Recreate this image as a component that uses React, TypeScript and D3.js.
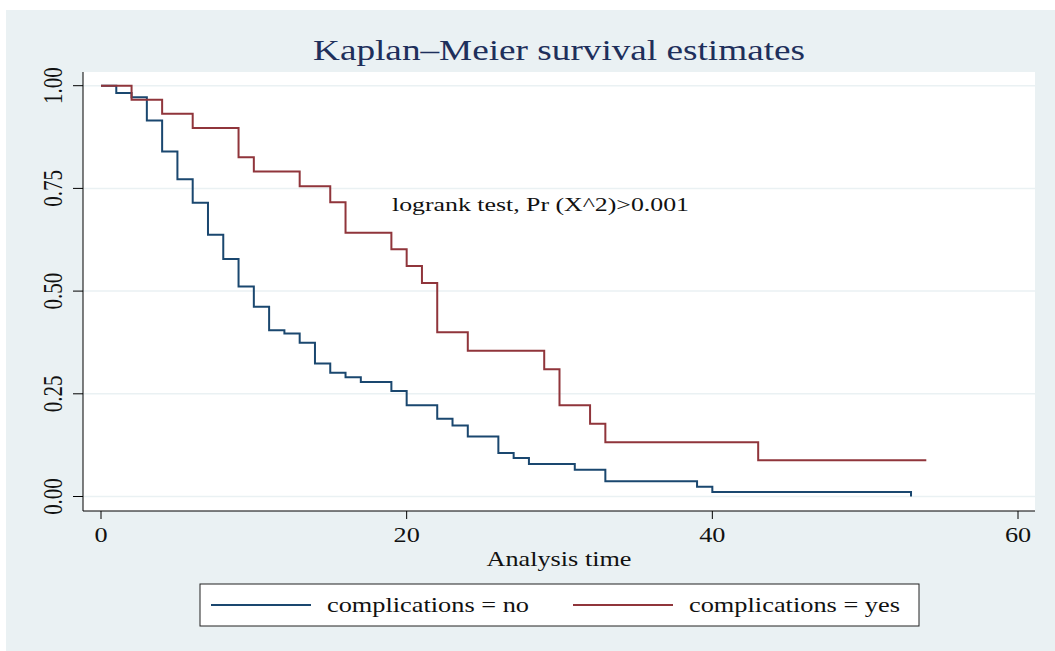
import React, { useEffect, useRef } from 'react';
import * as d3 from 'd3';

// survival estimates
const noTimes = [0, 1, 2, 3, 4, 5, 6, 7, 8, 9, 10, 11, 12, 13, 14, 15, 16, 17, 19, 20, 22, 23, 24, 26, 27, 28, 31, 33, 39, 40, 53];
const noSurv = [1, 0.982, 0.972, 0.915, 0.84, 0.772, 0.715, 0.637, 0.578, 0.511, 0.462, 0.405, 0.397, 0.374, 0.324, 0.301, 0.29, 0.279, 0.257, 0.222, 0.189, 0.173, 0.146, 0.106, 0.094, 0.079, 0.065, 0.037, 0.024, 0.011, 0];

const yesTimes = [0, 2, 4, 6, 9, 10, 13, 15, 16, 19, 20, 21, 22, 24, 29, 30, 32, 33, 43, 54];
const yesSurv = [1, 0.966, 0.932, 0.897, 0.826, 0.791, 0.755, 0.716, 0.642, 0.602, 0.561, 0.52, 0.4, 0.355, 0.31, 0.222, 0.177, 0.132, 0.088, 0.088];

const xTicks = [0, 20, 40, 60];
const yTicks = [0, 0.25, 0.5, 0.75, 1];
const seriesLabels = ['complications = no', 'complications = yes'];

const W = 1055;
const H = 651;
const BG = '#eaf1f3';
const NAVY = '#1a476f';
const MAROON = '#90353b';
const SX = 1.25; // picture is stretched horizontally

const App: React.FC = () => {
  const svgRef = useRef<SVGSVGElement>(null);

  useEffect(() => {
    if (!svgRef.current) return;
    const svg = d3.select(svgRef.current);
    svg.selectAll('*').remove();

    const left = 83, right = 1035, top = 72, bottom = 511;

    const x = d3.scaleLinear().domain([0, 60]).range([101, 1018]);
    const y = d3.scaleLinear().domain([0, 1]).range([496.5, 85.7]);

    const txt = (g: any, s: string, tx: number, ty: number, size: number, anchor: string,
      color = '#111', rot = 0, len = 0) => {
      const t = g.append('text')
        .attr('transform', `translate(${tx},${ty}) scale(${SX},1)` + (rot ? ` rotate(${rot})` : ''))
        .attr('text-anchor', anchor)
        .attr('font-family', '"Liberation Serif", "Times New Roman", serif')
        .attr('font-size', size)
        .attr('fill', color)
        .text(s);
      if (len) t.attr('textLength', len / SX).attr('lengthAdjust', 'spacingAndGlyphs');
      return t;
    };

    // background panel
    svg.append('rect').attr('x', 6).attr('y', 10).attr('width', W - 6).attr('height', H - 10).attr('fill', BG);
    svg.append('rect').attr('x', left).attr('y', top).attr('width', right - left).attr('height', bottom - top).attr('fill', '#fff');

    // gridlines
    svg.append('g').selectAll('line').data(yTicks).enter().append('line')
      .attr('x1', left).attr('x2', right)
      .attr('y1', d => y(d)).attr('y2', d => y(d))
      .attr('stroke', BG).attr('stroke-width', 1.5);

    // axes
    svg.append('line').attr('x1', left).attr('x2', left).attr('y1', top).attr('y2', bottom).attr('stroke', '#000').attr('stroke-width', 1);
    svg.append('line').attr('x1', left).attr('x2', right).attr('y1', bottom).attr('y2', bottom).attr('stroke', '#000').attr('stroke-width', 1);

    svg.append('g').selectAll('line').data(xTicks).enter().append('line')
      .attr('x1', d => x(d)).attr('x2', d => x(d)).attr('y1', bottom).attr('y2', bottom + 8)
      .attr('stroke', '#000');
    svg.append('g').selectAll('line').data(yTicks).enter().append('line')
      .attr('x1', left - 10).attr('x2', left).attr('y1', d => y(d)).attr('y2', d => y(d))
      .attr('stroke', '#000');

    const labels = svg.append('g');
    xTicks.forEach(t => txt(labels, String(t), x(t), 542, 21, 'middle'));
    yTicks.forEach(t => txt(labels, t.toFixed(2), 62, y(t), 21, 'middle', '#111', -90));

    // curves
    const line = d3.line<[number, number]>()
      .x(d => x(d[0])).y(d => y(d[1]))
      .curve(d3.curveStepAfter);

    const noPts = noTimes.map((t, i) => [t, noSurv[i]] as [number, number]);
    const yesPts = yesTimes.map((t, i) => [t, yesSurv[i]] as [number, number]);

    svg.append('path').attr('d', line(noPts) as string).attr('fill', 'none').attr('stroke', NAVY).attr('stroke-width', 2);
    svg.append('path').attr('d', line(yesPts) as string).attr('fill', 'none').attr('stroke', MAROON).attr('stroke-width', 2);

    // texts
    txt(svg, 'Kaplan\u2013Meier survival estimates', 559, 60, 29, 'middle', '#1e2f5b', 0, 492);
    txt(svg, 'logrank test, Pr (X^2)>0.001', 392, 211, 19, 'start', '#111', 0, 297);
    txt(svg, 'Analysis time', 559, 566, 21, 'middle', '#111', 0, 145);

    // legend
    const lg = svg.append('g');
    lg.append('rect').attr('x', 200).attr('y', 584).attr('width', 719).attr('height', 42)
      .attr('fill', '#fff').attr('stroke', '#222').attr('stroke-width', 1);
    const colors = [NAVY, MAROON];
    const lineX = [211, 573];
    const textLen = [202, 211];
    seriesLabels.forEach((s, i) => {
      lg.append('line').attr('x1', lineX[i]).attr('x2', lineX[i] + 100).attr('y1', 605).attr('y2', 605)
        .attr('stroke', colors[i]).attr('stroke-width', 2);
      txt(lg, s, lineX[i] + 116, 612, 21, 'start', '#111', 0, textLen[i]);
    });
  }, []);

  return (
    <svg
      ref={svgRef}
      width={W}
      height={H}
      style={{ position: 'absolute', left: 0, top: 0 }}
    />
  );
};

export default App;
